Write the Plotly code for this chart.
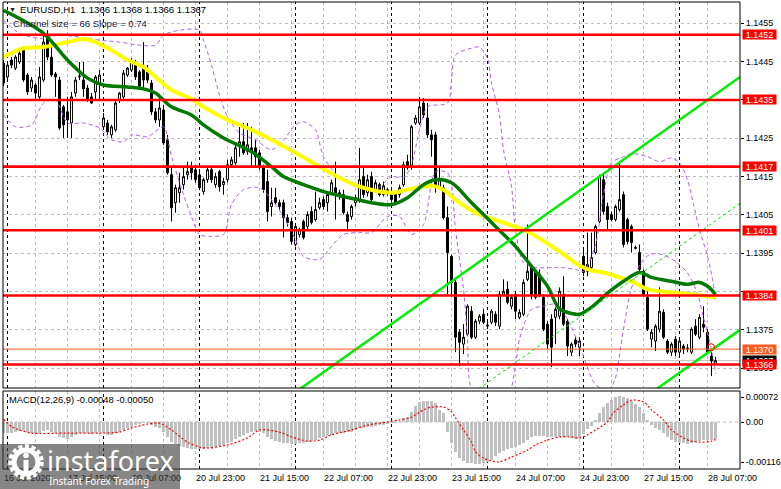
import pandas as pd
import plotly.graph_objects as go

# ---------------- data ----------------
symbol = "EURUSD,H1"
first_bar_time = "2020-07-16 23:00"
last_bar_time = "2020-07-28 09:00"

opens = [
    1.14446, 1.14410, 1.14454, 1.14433, 1.14449, 1.14483, 1.14415, 1.14381, 1.14389, 1.14358,
    1.14402, 1.14511, 1.14462, 1.14418, 1.14402, 1.14332, 1.14319, 1.14290, 1.14368, 1.14410,
    1.14402, 1.14381, 1.14358, 1.14371, 1.14394,
    1.14280, 1.14290, 1.14259, 1.14272, 1.14350, 1.14358, 1.14415, 1.14428, 1.14446, 1.14423,
    1.14433, 1.14423, 1.14394, 1.14319, 1.14298, 1.14324, 1.14246, 1.14155, 1.14082, 1.14108,
    1.14129, 1.14155, 1.14173, 1.14168,
    1.14155, 1.14111, 1.14142, 1.14168, 1.14129, 1.14163, 1.14129, 1.14142, 1.14181, 1.14186,
    1.14228, 1.14241, 1.14215, 1.14225, 1.14225, 1.14212, 1.14173, 1.14137, 1.14072, 1.14095,
    1.14082, 1.14082, 1.14043, 1.14033,
    1.13973, 1.13999, 1.14033, 1.14020, 1.14059, 1.14038, 1.14069, 1.14090, 1.14082, 1.14108,
    1.14121, 1.14108, 1.14103, 1.14051, 1.14046, 1.14082, 1.14090, 1.14150, 1.14108, 1.14150,
    1.14116, 1.14129, 1.14103, 1.14108,
    1.14103, 1.14103, 1.14103, 1.14129, 1.14189, 1.14176, 1.14290, 1.14290, 1.14342, 1.14303,
    1.14259, 1.14259, 1.14121, 1.14121, 1.14043, 1.13942, 1.13874, 1.13744, 1.13713, 1.13739,
    1.13799, 1.13731, 1.13773, 1.13791,
    1.13760, 1.13770, 1.13791, 1.13760, 1.13843, 1.13856, 1.13812, 1.13843, 1.13783, 1.13791,
    1.13882, 1.13913, 1.13903, 1.13895, 1.13835, 1.13765, 1.13778, 1.13783, 1.13786, 1.13843,
    1.13773, 1.13692, 1.13724, 1.13705,
    1.13942, 1.13921, 1.13913, 1.13952, 1.14033, 1.14142, 1.14072, 1.14051, 1.14038, 1.14064,
    1.14103, 1.14038, 1.14020, 1.13965, 1.13952, 1.13903, 1.13835, 1.13726, 1.13721, 1.13752,
    1.13796, 1.13721, 1.13692, 1.13726,
    1.13692, 1.13708, 1.13703, 1.13692, 1.13760, 1.13731, 1.13765, 1.13744, 1.13682, 1.13660,
]
highs = [
    1.14454, 1.14446, 1.14462, 1.14467, 1.14480, 1.14490, 1.14420, 1.14410, 1.14394, 1.14436,
    1.14524, 1.14532, 1.14493, 1.14423, 1.14410, 1.14337, 1.14358, 1.14371, 1.14410, 1.14449,
    1.14449, 1.14389, 1.14368, 1.14415, 1.14428,
    1.14316, 1.14298, 1.14285, 1.14350, 1.14371, 1.14428, 1.14436, 1.14459, 1.14454, 1.14428,
    1.14501, 1.14441, 1.14402, 1.14329, 1.14358, 1.14337, 1.14259, 1.14176, 1.14129, 1.14160,
    1.14176, 1.14189, 1.14189, 1.14176,
    1.14163, 1.14147, 1.14173, 1.14176, 1.14160, 1.14168, 1.14147, 1.14194, 1.14202, 1.14233,
    1.14285, 1.14290, 1.14290, 1.14280, 1.14246, 1.14220, 1.14181, 1.14168, 1.14121, 1.14121,
    1.14090, 1.14090, 1.14051, 1.14043,
    1.14025, 1.14017, 1.14038, 1.14059, 1.14072, 1.14111, 1.14095, 1.14098, 1.14111, 1.14142,
    1.14189, 1.14116, 1.14116, 1.14059, 1.14077, 1.14103, 1.14225, 1.14176, 1.14155, 1.14163,
    1.14142, 1.14134, 1.14137, 1.14121,
    1.14116, 1.14111, 1.14129, 1.14189, 1.14207, 1.14285, 1.14311, 1.14358, 1.14355, 1.14342,
    1.14272, 1.14267, 1.14173, 1.14129, 1.14072, 1.13947, 1.13882, 1.13752, 1.13765, 1.13817,
    1.13812, 1.13778, 1.13791, 1.13804,
    1.13773, 1.13804, 1.13799, 1.13851, 1.13882, 1.13877, 1.13840, 1.13851, 1.13804, 1.13882,
    1.14025, 1.13921, 1.13908, 1.13908, 1.13843, 1.13773, 1.13791, 1.13809, 1.13861, 1.13890,
    1.13778, 1.13718, 1.13731, 1.13731,
    1.13965, 1.14004, 1.14004, 1.14025, 1.14155, 1.14155, 1.14082, 1.14059, 1.14077, 1.14189,
    1.14111, 1.14043, 1.14025, 1.13970, 1.13973, 1.13908, 1.13856, 1.13752, 1.13765, 1.13861,
    1.13804, 1.13726, 1.13718, 1.13734,
    1.13726, 1.13713, 1.13713, 1.13757, 1.13778, 1.13791, 1.13812, 1.13752, 1.13692, 1.13680,
]
lows = [
    1.14386, 1.14402, 1.14433, 1.14428, 1.14444, 1.14397, 1.14363, 1.14371, 1.14353, 1.14353,
    1.14397, 1.14454, 1.14410, 1.14358, 1.14272, 1.14251, 1.14251, 1.14251, 1.14358, 1.14402,
    1.14358, 1.14345, 1.14340, 1.14350, 1.14350,
    1.14272, 1.14259, 1.14251, 1.14267, 1.14342, 1.14353, 1.14410, 1.14423, 1.14402, 1.14376,
    1.14381, 1.14394, 1.14311, 1.14290, 1.14280, 1.14233, 1.14155, 1.14033, 1.14056, 1.14082,
    1.14116, 1.14142, 1.14142, 1.14134,
    1.14116, 1.14103, 1.14134, 1.14134, 1.14121, 1.14111, 1.14103, 1.14134, 1.14176, 1.14181,
    1.14202, 1.14207, 1.14207, 1.14173, 1.14173, 1.14168, 1.14108, 1.14033, 1.14046, 1.14077,
    1.14064, 1.13991, 1.14020, 1.13973,
    1.13968, 1.13991, 1.13986, 1.14012, 1.14025, 1.14033, 1.14064, 1.14064, 1.14059, 1.14103,
    1.14038, 1.14090, 1.14051, 1.14012, 1.14038, 1.14072, 1.14082, 1.14095, 1.14098, 1.14082,
    1.14108, 1.14098, 1.14098, 1.14100,
    1.14082, 1.14077, 1.14095, 1.14124, 1.14168, 1.14168, 1.14285, 1.14285, 1.14303, 1.14251,
    1.14202, 1.14108, 1.14116, 1.14038, 1.13843, 1.13843, 1.13692, 1.13656, 1.13687, 1.13734,
    1.13726, 1.13726, 1.13765, 1.13765,
    1.13752, 1.13765, 1.13760, 1.13752, 1.13838, 1.13817, 1.13804, 1.13778, 1.13778, 1.13786,
    1.13877, 1.13830, 1.13830, 1.13835, 1.13747, 1.13700, 1.13653, 1.13713, 1.13778, 1.13760,
    1.13682, 1.13682, 1.13705, 1.13682,
    1.13890, 1.13890, 1.13908, 1.13947, 1.14028, 1.14051, 1.14012, 1.14033, 1.14033, 1.14059,
    1.13965, 1.13973, 1.13952, 1.13960, 1.13903, 1.13838, 1.13747, 1.13705, 1.13695, 1.13744,
    1.13726, 1.13687, 1.13682, 1.13682,
    1.13682, 1.13687, 1.13692, 1.13687, 1.13734, 1.13726, 1.13744, 1.13687, 1.13630, 1.13660,
]
closes = [
    1.14394, 1.14441, 1.14441, 1.14462, 1.14472, 1.14402, 1.14371, 1.14402, 1.14368, 1.14410,
    1.14501, 1.14462, 1.14415, 1.14410, 1.14277, 1.14285, 1.14298, 1.14358, 1.14402, 1.14412,
    1.14379, 1.14350, 1.14342, 1.14410, 1.14415,
    1.14303, 1.14267, 1.14280, 1.14342, 1.14368, 1.14420, 1.14433, 1.14449, 1.14410, 1.14386,
    1.14402, 1.14402, 1.14319, 1.14298, 1.14329, 1.14238, 1.14160, 1.14069, 1.14121, 1.14121,
    1.14150, 1.14163, 1.14160, 1.14142,
    1.14121, 1.14142, 1.14168, 1.14142, 1.14150, 1.14124, 1.14137, 1.14181, 1.14194, 1.14225,
    1.14241, 1.14212, 1.14233, 1.14212, 1.14202, 1.14176, 1.14116, 1.14059, 1.14082, 1.14082,
    1.14072, 1.14043, 1.14030, 1.13981,
    1.14020, 1.14012, 1.13991, 1.14051, 1.14030, 1.14064, 1.14082, 1.14072, 1.14103, 1.14134,
    1.14103, 1.14098, 1.14056, 1.14033, 1.14072, 1.14095, 1.14142, 1.14103, 1.14142, 1.14090,
    1.14134, 1.14103, 1.14126, 1.14116,
    1.14090, 1.14082, 1.14121, 1.14181, 1.14173, 1.14280, 1.14303, 1.14332, 1.14311, 1.14259,
    1.14246, 1.14129, 1.14142, 1.14043, 1.13952, 1.13874, 1.13731, 1.13718, 1.13731, 1.13812,
    1.13731, 1.13773, 1.13786, 1.13770,
    1.13762, 1.13799, 1.13770, 1.13843, 1.13851, 1.13822, 1.13835, 1.13799, 1.13796, 1.13874,
    1.13903, 1.13843, 1.13835, 1.13843, 1.13752, 1.13713, 1.13705, 1.13804, 1.13851, 1.13765,
    1.13708, 1.13713, 1.13713, 1.13721,
    1.13900, 1.13903, 1.13939, 1.14020, 1.14150, 1.14059, 1.14038, 1.14038, 1.14072, 1.14090,
    1.13973, 1.13981, 1.13978, 1.13963, 1.13908, 1.13843, 1.13752, 1.13744, 1.13760, 1.13799,
    1.13731, 1.13692, 1.13713, 1.13692,
    1.13721, 1.13700, 1.13701, 1.13752, 1.13739, 1.13783, 1.13757, 1.13692, 1.13669, 1.13670,
]

# moving averages (read at knots along the curves)
ma_slow_bars = [0, 5, 10, 16, 20, 23, 27, 31, 35, 38, 42, 47, 50, 56, 62, 67, 73, 79, 85, 90,
                97, 101, 107, 110, 113, 118, 125, 131, 139, 144, 147, 150, 154, 158, 161, 164, 172, 178]
ma_slow_vals = [1.14462, 1.14485, 1.14488, 1.14501, 1.14509, 1.14501, 1.14480, 1.14454, 1.14436, 1.14410,
                1.14376, 1.14353, 1.14332, 1.14298, 1.14272, 1.14246, 1.14212, 1.14176, 1.14142, 1.14121,
                1.14108, 1.14116, 1.14126, 1.14116, 1.14090, 1.14056, 1.14030, 1.14007, 1.13955, 1.13918,
                1.13905, 1.13900, 1.13887, 1.13872, 1.13856, 1.13851, 1.13843, 1.13835]
ma_fast_bars = [0, 10, 16, 21, 25, 31, 35, 38, 42, 47, 50, 55, 62, 67, 70, 75, 80, 85, 92, 97,
                101, 105, 108, 112, 117, 123, 128, 132, 136, 139, 142, 144, 147, 151, 155, 159, 162, 167,
                171, 174, 176, 178]
ma_fast_vals = [1.14584, 1.14524, 1.14454, 1.14407, 1.14389, 1.14384, 1.14379, 1.14368, 1.14332, 1.14311,
                1.14285, 1.14251, 1.14215, 1.14176, 1.14150, 1.14129, 1.14111, 1.14098, 1.14082, 1.14077,
                1.14095, 1.14129, 1.14142, 1.14134, 1.14082, 1.14020, 1.13968, 1.13916, 1.13864, 1.13805,
                1.13793, 1.13791, 1.13809, 1.13846, 1.13877, 1.13900, 1.13887, 1.13877, 1.13869, 1.13874,
                1.13864, 1.13843]

# envelope bands (dashed violet)
band_up_bars = [0, 4, 9, 14, 19, 24, 29, 34, 38, 40, 44, 49, 50, 52, 54, 56, 59, 63, 67, 70,
                73, 75, 78, 80, 84, 88, 93, 97, 100, 102, 104, 106, 111, 112, 113, 117, 119, 121, 122, 124,
                125, 127, 128, 130, 133, 139, 143, 145, 148, 150, 152, 155, 157, 161, 164, 167, 169, 171,
                172.4, 174, 176, 177.4, 178]
band_up_vals = [1.14558, 1.14524, 1.14511, 1.14519, 1.14514, 1.14506, 1.14501, 1.14493, 1.14493, 1.14519,
                1.14532, 1.14532, 1.14506, 1.14441, 1.14363, 1.14306, 1.14264, 1.14246, 1.14220, 1.14246,
                1.14285, 1.14293, 1.14272, 1.14202, 1.14147, 1.14124, 1.14116, 1.14150, 1.14147, 1.14181,
                1.14272, 1.14332, 1.14342, 1.14402, 1.14467, 1.14485, 1.14488, 1.14459, 1.14394, 1.14311,
                1.14220, 1.14124, 1.14012, 1.13926, 1.13913, 1.13913, 1.13908, 1.13903, 1.13973, 1.14103,
                1.14186, 1.14202, 1.14210, 1.14202, 1.14189, 1.14199, 1.14186, 1.14142, 1.14082, 1.14012,
                1.13942, 1.13874, 1.13830]
band_lo_bars = [0, 3, 7, 10, 13, 16, 20, 24, 27, 30, 32, 36, 40, 42, 45, 47, 49, 52, 55, 57,
                60, 64, 67, 70, 73, 75, 79, 82, 85, 89, 92, 96, 99, 102, 105, 108, 111, 112, 113, 115,
                116, 117, 122, 126, 128, 129, 132, 135, 138, 141, 144.6, 147.9, 151.1, 152.9, 154.6, 156.6,
                159.1, 161.6, 164.6, 167.9, 170.9, 173.4, 174.9, 176.6, 178.1]
band_lo_vals = [1.14311, 1.14280, 1.14285, 1.14342, 1.14350, 1.14290, 1.14290, 1.14277, 1.14246, 1.14241,
                1.14259, 1.14254, 1.14280, 1.14202, 1.14103, 1.14046, 1.13999, 1.13994, 1.13999, 1.14077,
                1.14116, 1.14121, 1.14090, 1.14046, 1.13986, 1.13942, 1.13934, 1.13968, 1.13999, 1.14004,
                1.14004, 1.14046, 1.14046, 1.13999, 1.14025, 1.14163, 1.14160, 1.14129, 1.14012, 1.13856,
                1.13726, 1.13596, 1.13544, 1.13570, 1.13656, 1.13726, 1.13804, 1.13812, 1.13817, 1.13778,
                1.13692, 1.13609, 1.13591, 1.13622, 1.13726, 1.13843, 1.13921, 1.13947, 1.13947, 1.13929,
                1.13900, 1.13848, 1.13786, 1.13718, 1.13635]

# horizontal levels
level_prices = [1.1452, 1.1435, 1.14176, 1.1401, 1.1384, 1.1366]
level_labels = ["1.1452", "1.1435", "1.1417", "1.1401", "1.1384", "1.1366"]
minor_level_price = 1.1370
minor_level_label = "1.1370"
bid_price = 1.1367
alert_bar, alert_price = 176.9, 1.13705

# trend channel
channel_size_pips = 66
channel_slope_pips = 0.74
channel_anchor_bar = 176
channel_upper_at_anchor = 1.14350
channel_start_bar = 60

# MACD(12,26,9)
macd_hist = [
    -0.00033, -0.00033, -0.00031, -0.00028, -0.00026, -0.00025, -0.00028, -0.00031, -0.00033, -0.00031,
    -0.00025, -0.00023, -0.00028, -0.00033, -0.00042, -0.00047, -0.00050, -0.00044, -0.00037, -0.00033,
    -0.00031, -0.00033, -0.00035, -0.00031, -0.00028, -0.00033, -0.00037, -0.00037, -0.00033, -0.00028,
    -0.00023, -0.00018, -0.00013, -0.00009, -0.00006, -0.00004, -0.00004, -0.00009, -0.00013, -0.00018,
    -0.00028, -0.00042, -0.00057, -0.00063, -0.00069, -0.00071, -0.00076, -0.00078, -0.00079, -0.00079,
    -0.00078, -0.00076, -0.00074, -0.00071, -0.00069, -0.00066, -0.00061, -0.00057, -0.00050, -0.00042,
    -0.00037, -0.00031, -0.00028, -0.00025, -0.00028, -0.00033, -0.00042, -0.00050, -0.00055, -0.00058,
    -0.00060, -0.00061, -0.00063, -0.00063, -0.00061, -0.00060, -0.00057, -0.00055, -0.00052, -0.00047,
    -0.00044, -0.00040, -0.00036, -0.00033, -0.00031, -0.00031, -0.00030, -0.00028, -0.00023, -0.00018,
    -0.00016, -0.00015, -0.00013, -0.00012, -0.00010, -0.00008, -0.00006, -0.00004, -0.00002, 0.00002,
    0.00011, 0.00015, 0.00030, 0.00046, 0.00059, 0.00061, 0.00061, 0.00061, 0.00054, 0.00036,
    0.00025, -0.00028, -0.00061, -0.00085, -0.00105, -0.00112, -0.00117, -0.00119, -0.00121, -0.00121,
    -0.00119, -0.00114, -0.00108, -0.00098, -0.00088, -0.00083, -0.00079, -0.00076, -0.00071, -0.00066,
    -0.00060, -0.00052, -0.00044, -0.00040, -0.00039, -0.00040, -0.00042, -0.00044, -0.00044, -0.00042,
    -0.00042, -0.00044, -0.00047, -0.00049, -0.00047, -0.00035, -0.00021, -0.00012, 0.00006, 0.00025,
    0.00042, 0.00054, 0.00063, 0.00071, 0.00075, 0.00073, 0.00068, 0.00061, 0.00052, 0.00042,
    0.00027, 0.00006, -0.00009, -0.00018, -0.00023, -0.00033, -0.00044, -0.00052, -0.00057, -0.00060,
    -0.00061, -0.00063, -0.00061, -0.00058, -0.00054, -0.00052, -0.00052, -0.00052, -0.00048,
]
signal_bars = [0, 2, 4, 7, 16, 24, 29, 32, 36, 39, 42, 46, 49, 51, 56, 61, 64, 69, 72, 76,
               79, 82, 87, 91, 96, 99, 102, 105, 107, 110, 112, 113, 115, 117, 118, 120, 122, 124, 127, 131,
               133, 136, 139, 142, 144, 146, 148, 151, 152.4, 155, 157, 160, 162, 165, 167, 170, 172, 175, 177, 178]
signal_vals = [0.00008, -0.00013, -0.00023, -0.00032, -0.00032, -0.00032, -0.00029, -0.00017, -0.00006, -0.00003,
               -0.00023, -0.00058, -0.00072, -0.00075, -0.00066, -0.00046, -0.00023, -0.00029, -0.00043, -0.00055,
               -0.00052, -0.00037, -0.00023, -0.00009, 0.0, 0.00006, 0.00014, 0.00035, 0.00043, 0.00043,
               0.00029, 0.00012, -0.00023, -0.00058, -0.00086, -0.00104, -0.00112, -0.00115, -0.00101, -0.00081,
               -0.00066, -0.00052, -0.00043, -0.00043, -0.00046, -0.00037, -0.00023, 0.0, 0.00026, 0.00049,
               0.00063, 0.00058, 0.00035, 0.00006, -0.00023, -0.00046, -0.00055, -0.00058, -0.00055, -0.00050]

# axis ticks
tick_times = ["2020-07-16 23:00", "2020-07-17 15:00", "2020-07-20 07:00", "2020-07-20 23:00",
              "2020-07-21 15:00", "2020-07-22 07:00", "2020-07-22 23:00", "2020-07-23 15:00",
              "2020-07-24 07:00", "2020-07-24 23:00", "2020-07-27 15:00", "2020-07-28 07:00"]
tick_labels = ["16 Jul 2020", "17 Jul 15:00", "20 Jul 07:00", "20 Jul 23:00", "21 Jul 15:00",
               "22 Jul 07:00", "22 Jul 23:00", "23 Jul 15:00", "24 Jul 07:00", "24 Jul 23:00",
               "27 Jul 15:00", "28 Jul 07:00"]
price_ticks = [1.1365, 1.1375, 1.1385, 1.1395, 1.1405, 1.1415, 1.1425, 1.1435, 1.1445, 1.1455]
price_ticks_hidden = [1.1385, 1.1435]   # covered by level labels in the terminal
macd_ticks = [0.00072, 0.0, -0.00116]
macd_tick_text = ["0.00072", "0.00", "-0.00116"]

# ---------------- layout geometry (pixels) ----------------
W, H = 781, 489
PL, PR = 3, 740
MAIN_T, MAIN_B = 2, 388
MACD_T, MACD_B = 391, 469
BAR0_PX, BAR_PX = 3.5, 4.0
REF_PRICE, REF_PX, PX_PER_PRICE = 1.1455, 23.3, 38330.0
MACD_ZERO_PX, MACD_PX_PER_UNIT = 422.0, 34722.0

FONT = "Liberation Sans, Arial, sans-serif"
GRID = "#bdbdbd"

def fx(px):
    return px / W

def fy(py):
    return 1 - py / H

n = len(opens)
bars = list(range(n))
times = [t for t in pd.date_range(first_bar_time, last_bar_time, freq="h") if t.weekday() < 5]
times = times[:n]
time_index = {t.strftime("%Y-%m-%d %H:%M"): i for i, t in enumerate(times)}
label_pos = [time_index[t] for t in tick_times]
tickvals, ticktext = [], []
for p, lab in zip(label_pos, tick_labels):
    tickvals += [p, p + 8]
    ticktext += [lab, ""]
day_starts = [i for i, t in enumerate(times) if t.hour == 0]

x_range = [(PL - BAR0_PX) / BAR_PX, (PR - BAR0_PX) / BAR_PX]
y_range = [REF_PRICE - (MAIN_B - REF_PX) / PX_PER_PRICE, REF_PRICE + (REF_PX - MAIN_T) / PX_PER_PRICE]
m_range = [-(MACD_B - MACD_ZERO_PX) / MACD_PX_PER_UNIT, (MACD_ZERO_PX - MACD_T) / MACD_PX_PER_UNIT]

fig = go.Figure()

fig.add_trace(go.Candlestick(
    x=bars, open=opens, high=highs, low=lows, close=closes,
    increasing=dict(line=dict(color="black", width=1), fillcolor="white"),
    decreasing=dict(line=dict(color="black", width=1), fillcolor="black"),
    whiskerwidth=0, xaxis="x", yaxis="y", showlegend=False, hoverinfo="skip"))

line_kw = dict(mode="lines", xaxis="x", yaxis="y", showlegend=False, hoverinfo="skip")
fig.add_trace(go.Scatter(x=band_up_bars, y=band_up_vals, line=dict(color="#b060e0", width=1, dash="4px,3px", shape="spline", smoothing=0.8), **line_kw))
fig.add_trace(go.Scatter(x=band_lo_bars, y=band_lo_vals, line=dict(color="#b060e0", width=1, dash="4px,3px", shape="spline", smoothing=0.8), **line_kw))
fig.add_trace(go.Scatter(x=ma_slow_bars, y=ma_slow_vals, line=dict(color="#ffff00", width=4, shape="spline", smoothing=0.9), **line_kw))
fig.add_trace(go.Scatter(x=ma_fast_bars, y=ma_fast_vals, line=dict(color="#007a00", width=3.5, shape="spline", smoothing=0.9), **line_kw))

# trend channel
slope = channel_slope_pips * 0.0001
width = channel_size_pips * 0.0001
cx = [channel_start_bar, x_range[1]]
upper = [channel_upper_at_anchor + slope * (b - channel_anchor_bar) for b in cx]
lower = [u - width for u in upper]
middle = [u - width / 2 for u in upper]
fig.add_trace(go.Scatter(x=cx, y=upper, line=dict(color="#00ee00", width=2.5), **line_kw))
fig.add_trace(go.Scatter(x=cx, y=lower, line=dict(color="#00ee00", width=2.5), **line_kw))
fig.add_trace(go.Scatter(x=cx, y=middle, line=dict(color="#00ee00", width=1, dash="3px,3px"), **line_kw))
fig.add_trace(go.Scatter(x=[alert_bar], y=[alert_price], mode="markers",
                         marker=dict(symbol="circle-open", size=7, color="#ff0000", line=dict(width=1)),
                         xaxis="x", yaxis="y", showlegend=False, hoverinfo="skip"))

# MACD
fig.add_trace(go.Bar(x=bars, y=macd_hist, marker=dict(color="#c0c0c0", line=dict(width=0)), width=0.55,
                     xaxis="x2", yaxis="y2", showlegend=False, hoverinfo="skip"))
fig.add_trace(go.Scatter(x=signal_bars, y=signal_vals, mode="lines",
                         line=dict(color="#ff0000", width=1.2, dash="2px,2px", shape="spline", smoothing=0.8),
                         xaxis="x2", yaxis="y2", showlegend=False, hoverinfo="skip"))

shapes = []
# day separators
for d in day_starts:
    for xr, yr in (("x", "y domain"), ("x2", "y2 domain")):
        shapes.append(dict(type="line", xref=xr, yref=yr, x0=d, x1=d, y0=0, y1=1, layer="below",
                           line=dict(color="black", width=1, dash="3px,3px")))
# MACD zero line
shapes.append(dict(type="line", xref="x2 domain", yref="y2", x0=0, x1=1, y0=0, y1=0, layer="below",
                   line=dict(color=GRID, width=1, dash="3px,3px")))
# bid line
shapes.append(dict(type="line", xref="x domain", yref="y", x0=0, x1=1, y0=bid_price, y1=bid_price,
                   layer="below", line=dict(color="#c0c0c0", width=1)))
# levels
for p in level_prices:
    shapes.append(dict(type="line", xref="x domain", yref="y", x0=0, x1=1, y0=p, y1=p,
                       line=dict(color="#ff0000", width=2.6)))
shapes.append(dict(type="line", xref="x domain", yref="y", x0=0, x1=1, y0=minor_level_price,
                   y1=minor_level_price, line=dict(color="#ff5a1e", width=1)))
# frames
for xr, yr in (("x domain", "y domain"), ("x2 domain", "y2 domain")):
    shapes.append(dict(type="rect", xref=xr, yref=yr, x0=0, x1=1, y0=0, y1=1,
                       line=dict(color="black", width=1), fillcolor="rgba(0,0,0,0)"))

# watermark
shapes.append(dict(type="rect", xref="paper", yref="paper", x0=0, x1=fx(180), y0=0, y1=fy(444),
                   line=dict(width=0), fillcolor="rgba(60,60,60,0.62)", layer="above"))
def circ(cx_, cy_, r, **kw):
    return dict(type="circle", xref="paper", yref="paper", x0=fx(cx_ - r), x1=fx(cx_ + r),
                y0=fy(cy_ + r), y1=fy(cy_ - r), layer="above", **kw)
shapes.append(circ(26, 462, 15.5, line=dict(color="white", width=4.5, dash="4px,2.5px")))
shapes.append(circ(26, 462, 12, line=dict(color="white", width=5)))
shapes.append(circ(26, 455.5, 2.8, line=dict(width=0), fillcolor="white"))
shapes.append(dict(type="rect", xref="paper", yref="paper", x0=fx(23.5), x1=fx(28.5), y0=fy(472),
                   y1=fy(460), line=dict(width=0), fillcolor="white", layer="above"))

annotations = []
hdr = "{}\u00a0\u00a0{:.4f} {:.4f} {:.4f} {:.4f}".format(symbol, opens[-1], highs[-1], lows[-1], closes[-1])
annotations.append(dict(x=fx(18), y=fy(10), xref="paper", yref="paper", xanchor="left", yanchor="middle",
                        text=hdr, showarrow=False, font=dict(family=FONT, size=9.6, color="black")))
annotations.append(dict(x=fx(6.5), y=fy(9.5), xref="paper", yref="paper", xanchor="left", yanchor="middle",
                        text="▼", showarrow=False, font=dict(family=FONT, size=7, color="#202020")))
annotations.append(dict(x=fx(10.5), y=fy(23.5), xref="paper", yref="paper", xanchor="left", yanchor="middle",
                        text="Channel size = {} Slope = {}".format(channel_size_pips, channel_slope_pips),
                        showarrow=False, font=dict(family=FONT, size=9.6, color="#1c1c40")))
annotations.append(dict(x=fx(6.5), y=fy(399.5), xref="paper", yref="paper", xanchor="left", yanchor="middle",
                        text="MACD(12,26,9) {:.5f} {:.5f}".format(macd_hist[-1], signal_vals[-1]),
                        showarrow=False, font=dict(family=FONT, size=9.4, color="black")))

def price_label(p, txt, bg):
    return dict(x=fx(742), y=p, xref="paper", yref="y", xanchor="left", yanchor="middle", text=txt,
                showarrow=False, bgcolor=bg, width=33, height=9, borderpad=0, align="center",
                font=dict(family=FONT, size=9, color="white"))
for p, t in zip(level_prices[:-1], level_labels[:-1]):
    annotations.append(price_label(p, t, "#ff0000"))
annotations.append(price_label(minor_level_price, minor_level_label, "#ff5a1e"))
annotations.append(price_label(bid_price, "{:.4f}".format(closes[-1]), "#000000"))
annotations.append(price_label(level_prices[-1], level_labels[-1], "#ff0000"))

annotations.append(dict(x=fx(45), y=fy(460), xref="paper", yref="paper", xanchor="left", yanchor="middle",
                        text="instaforex", showarrow=False,
                        font=dict(family="Noto Sans, Open Sans, sans-serif", size=27, color="white")))
annotations.append(dict(x=fx(47), y=fy(480.5), xref="paper", yref="paper", xanchor="left", yanchor="middle",
                        text="Instant Forex Trading", showarrow=False,
                        font=dict(family="Noto Sans, Open Sans, sans-serif", size=10, color="white")))

axis_font = dict(family=FONT, size=9, color="black")
xcommon = dict(range=x_range, domain=[fx(PL), fx(PR)], tickmode="array", tickvals=tickvals, ticktext=ticktext,
               showgrid=True, gridcolor=GRID, griddash="3px,3px", gridwidth=1, zeroline=False,
               showline=False, fixedrange=True, automargin=False)
fig.update_layout(
    width=W, height=H, autosize=False,
    margin=dict(l=0, r=0, t=0, b=0, pad=0),
    paper_bgcolor="white", plot_bgcolor="white",
    hovermode=False, showlegend=False, bargap=0,
    xaxis=dict(anchor="y", showticklabels=False, ticks="", rangeslider=dict(visible=False), **xcommon),
    xaxis2=dict(anchor="y2", showticklabels=True, ticks="outside", ticklen=2, tickcolor="rgba(0,0,0,0)",
                ticklabelposition="outside right", tickfont=axis_font, **xcommon),
    yaxis=dict(anchor="x", domain=[fy(MAIN_B), fy(MAIN_T)], range=y_range, side="right",
               tickmode="array", tickvals=price_ticks,
               ticktext=["" if v in price_ticks_hidden else "{:.4f}".format(v) for v in price_ticks],
               ticks="outside", ticklen=3, tickcolor="black", tickfont=axis_font, automargin=False,
               showgrid=True, gridcolor=GRID, griddash="3px,3px", zeroline=False, fixedrange=True),
    yaxis2=dict(anchor="x2", domain=[fy(MACD_B), fy(MACD_T)], range=m_range, side="right",
                tickmode="array", tickvals=macd_ticks, ticktext=macd_tick_text, automargin=False,
                ticks="outside", ticklen=3, tickcolor="black", tickfont=axis_font,
                showgrid=False, zeroline=False, fixedrange=True),
    shapes=shapes, annotations=annotations,
)

fig.write_html("out.html", include_plotlyjs=True, full_html=True,
               config={"displayModeBar": False, "staticPlot": True},
               post_script="document.body.style.margin='0';document.body.style.overflow='hidden';")
